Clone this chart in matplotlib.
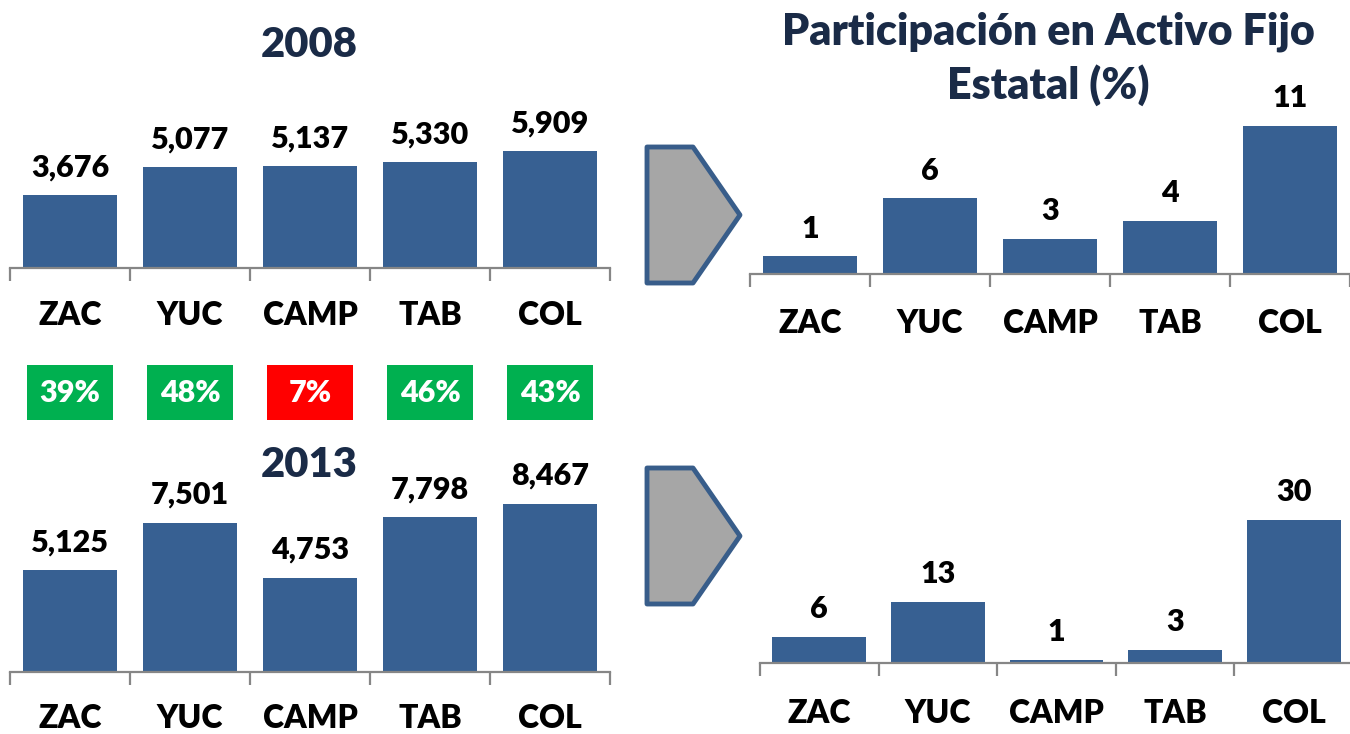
import matplotlib
matplotlib.use("Agg")
import matplotlib.pyplot as plt
from matplotlib.patches import Polygon

plt.rcParams['font.family'] = ['Lato', 'DejaVu Sans']

W, H = 1350, 734
PESO = 'heavy'

# data
estados = ["ZAC", "YUC", "CAMP", "TAB", "COL"]
valor_2008 = [3676, 5077, 5137, 5330, 5909]
valor_2013 = [5125, 7501, 4753, 7798, 8467]
crecimiento = [39, 48, 7, 46, 43]
part_2008 = [1.3, 5.6, 2.6, 3.9, 11.0]
part_2013 = [5.5, 12.8, 0.6, 2.7, 30.0]
titulo = ["Participación en Activo Fijo", "Estatal (%)"]

BAR = "#376092"
NAVY = "#1A2B47"
GRIS = "#868686"

fig = plt.figure(figsize=(W / 100, H / 100), dpi=100)


def ax_px(l, t, r, b):
    # axes placed by pixel box (left, top, right, bottom)
    return fig.add_axes([l / W, 1 - b / H, (r - l) / W, (b - t) / H])


def barras(ax, vals, ymax, etiquetas, pad):
    x = range(len(estados))
    ax.bar(x, vals, width=0.79, color=BAR, zorder=2)
    ax.set_xlim(-0.5, len(estados) - 0.5)
    ax.set_ylim(0, ymax)
    for s in ["top", "right", "left"]:
        ax.spines[s].set_visible(False)
    ax.spines["bottom"].set_color(GRIS)
    ax.spines["bottom"].set_linewidth(1.6)
    ax.set_yticks([])
    ax.set_xticks(list(x))
    ax.set_xticklabels(estados, fontsize=23, fontweight=PESO)
    ax.tick_params(axis='x', which='major', length=0, pad=pad)
    ax.set_xticks([i - 0.5 for i in range(len(estados) + 1)], minor=True)
    ax.tick_params(axis='x', which='minor', length=9, width=1.6,
                   color=GRIS, direction='out')
    ax.patch.set_alpha(0)
    for i, v in enumerate(vals):
        ax.annotate(etiquetas(v), (i, v), xytext=(0, 10),
                    textcoords='offset points', ha='center', va='bottom',
                    fontsize=22, fontweight=PESO)


# 2008 / 2013 valores absolutos
ax1 = ax_px(10, 98, 610, 268)
barras(ax1, valor_2008, 170 * 50.5, lambda v: f"{v:,}", 24)
ax2 = ax_px(10, 472, 610, 672)
barras(ax2, valor_2013, 200 * 50.3, lambda v: f"{v:,}", 23)

# participacion
ax3 = ax_px(750, 104, 1350, 274)
barras(ax3, part_2008, 170 / 13.5, lambda v: f"{round(v)}", 25)
ax4 = ax_px(760, 463, 1353, 663)
barras(ax4, part_2013, 200 / 4.77, lambda v: f"{round(v)}", 26)

# cajas de crecimiento
axc = ax_px(10, 365, 610, 420)
colores = ["#FF0000" if c < 10 else "#00B050" for c in crecimiento]
axc.bar(range(len(estados)), [1] * len(estados), width=0.72, color=colores)
axc.set_xlim(-0.5, len(estados) - 0.5)
axc.set_ylim(0, 1)
axc.axis('off')
for i, c in enumerate(crecimiento):
    axc.text(i, 0.5, f"{c}%", ha='center', va='center', color='white',
             fontsize=22, fontweight=PESO)

# titulos
fig.text(309 / W, 1 - 45 / H, "2008", ha='center', va='center',
         fontsize=30, fontweight=PESO, color=NAVY)
fig.text(309 / W, 1 - 465 / H, "2013", ha='center', va='center',
         fontsize=30, fontweight=PESO, color=NAVY)
for linea, y in zip(titulo, (32, 85)):
    fig.text(1048 / W, 1 - y / H, linea, ha='center', va='center',
             fontsize=31, fontweight=PESO, color=NAVY)

# flechas
for top in (147, 468):
    pts = [(647, top), (693, top), (740, top + 68), (693, top + 136), (647, top + 136)]
    fig.patches.append(Polygon([(x / W, 1 - y / H) for x, y in pts], closed=True,
                               transform=fig.transFigure, facecolor="#A6A6A6",
                               edgecolor="#385D8A", linewidth=3.5, joinstyle='round'))

fig.savefig("out.png", dpi=100)
